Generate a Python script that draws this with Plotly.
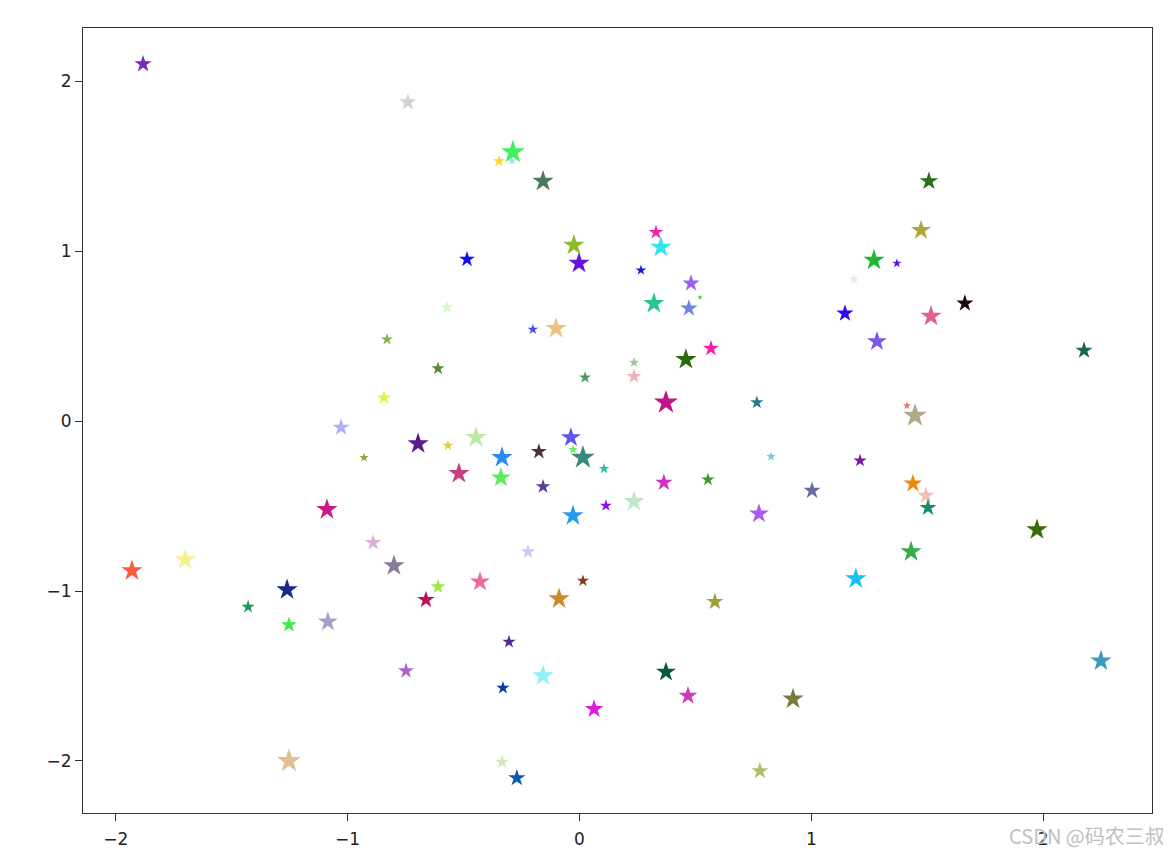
import plotly.graph_objects as go

x = [-1.882, -0.740, -0.347, -0.291, -0.287, -0.157, -0.485, -0.024, -0.002, 0.330,
     0.351, 0.265, 0.481, 0.520, 0.321, 0.472, 1.270, 1.184, 1.369, 1.507,
     1.473, 1.145, 1.283, 1.516, 1.662, 2.176, -0.571, -0.830, -0.610, -0.843,
     -0.201, -0.101, 0.024, -1.028, -1.089, -0.696, -0.567, -0.446, -0.929, -0.520,
     -0.334, -0.339, -0.175, -0.037, -0.028, 0.015, 0.106, -0.157, 0.114, -0.028,
     -0.890, -0.222, 0.235, 0.364, 0.554, 0.774, 1.003, 0.826, 1.210, 0.765,
     0.373, 0.235, 0.235, 0.459, 0.567, 1.412, 1.447, 1.438, 1.494, 1.503,
     1.973, 1.430, 2.249, 1.192, 0.584, 0.373, 0.468, 0.921, 0.778, -0.800,
     -0.610, -0.662, -0.429, 0.015, -0.088, -0.304, -0.748, -0.157, -0.330, 0.063,
     -0.334, -0.270, -1.930, -1.701, -1.261, -1.429, -1.253, -1.085, -1.253]

y = [2.100, 1.876, 1.529, 1.529, 1.582, 1.411, 0.951, 1.034, 0.928, 1.110,
     1.022, 0.887, 0.810, 0.728, 0.692, 0.663, 0.946, 0.834, 0.928, 1.411,
     1.122, 0.633, 0.468, 0.616, 0.692, 0.415, 0.669, 0.480, 0.309, 0.138,
     0.539, 0.545, 0.256, -0.038, -0.521, -0.133, -0.144, -0.097, -0.215, -0.309,
     -0.215, -0.333, -0.180, -0.097, -0.168, -0.215, -0.280, -0.386, -0.498, -0.557,
     -0.716, -0.769, -0.474, -0.362, -0.345, -0.545, -0.409, -0.209, -0.233, 0.109,
     0.109, 0.262, 0.345, 0.362, 0.427, 0.091, 0.032, -0.368, -0.439, -0.510,
     -0.639, -0.769, -1.411, -0.928, -1.063, -1.476, -1.617, -1.635, -2.059, -0.851,
     -0.975, -1.052, -0.946, -0.940, -1.046, -1.299, -1.470, -1.499, -1.570, -1.694,
     -2.006, -2.100, -0.881, -0.816, -0.993, -1.093, -1.199, -1.181, -2.000]

colors = ["#7a2ab8", "#d0d4d0", "#f8d820", "#a8d8f0", "#40ee60", "#4a7a58", "#1010ee", "#8cbc28", "#6a10e0", "#ee28a8",
          "#30e4f0", "#1818d8", "#9a60ee", "#40c020", "#2cc494", "#6888e4", "#20b830", "#f2e4e0", "#5a10e8", "#2a721a",
          "#aaaa3a", "#2a0aee", "#7a58e8", "#e06090", "#1e0a0a", "#1a6a48", "#d8f8c8", "#7ab840", "#5a8a3a", "#e8ee48",
          "#4848f0", "#f0c080", "#4a9a5a", "#b0b0f8", "#cc1888", "#5a1a8a", "#e0cc38", "#c0e8a0", "#a0a040", "#c84080",
          "#2a8aee", "#58ee58", "#4a3434", "#5a5aee", "#6ae86a", "#3a8a7a", "#2ab8a0", "#5a3a9a", "#9a0aee", "#2a9aee",
          "#d8b0d8", "#d0c8f0", "#c0e8c8", "#d030c0", "#3a9a2a", "#aa5aee", "#6a6aaa", "#70c8e8", "#7a1aaa", "#2a7a8a",
          "#c0158a", "#f0b0b8", "#a0c890", "#2a6a0a", "#ff1aaa", "#ee7070", "#b0aa8a", "#ee8a0a", "#f0c0b0", "#1a8a6a",
          "#3a6a0a", "#3aaa4a", "#3a9abb", "#1ac0ee", "#a0a03a", "#0a5a3a", "#cc3abb", "#7a7a3a", "#b0c070", "#8a7a9a",
          "#a0e840", "#c0105a", "#ee6a9a", "#8a3a1a", "#d08a2a", "#4a2a8a", "#aa66cc", "#90f0f8", "#0a3a9a", "#dd1add",
          "#d0e8c0", "#0a5ab0", "#ff5a3a", "#f8f090", "#1a2a8a", "#1a9a5a", "#3aee3a", "#a0a0c8", "#e0c090"]

sizes = [13, 13, 9, 6, 18, 16, 12, 16, 16, 11,
         16, 8, 13, 4, 16, 13, 16, 8, 7, 14,
         15, 13, 15, 16, 13, 13, 10, 9, 10, 11,
         8, 16, 9, 13, 16, 16, 8, 16, 7, 16,
         16, 15, 12, 15, 7, 18, 8, 11, 9, 16,
         12, 11, 16, 13, 10, 15, 13, 7, 10, 10,
         18, 11, 8, 16, 12, 6, 18, 14, 13, 13,
         16, 16, 16, 16, 13, 15, 14, 16, 13, 16,
         11, 13, 15, 9, 16, 10, 12, 16, 10, 14,
         10, 13, 16, 16, 16, 10, 12, 15, 18]

fig = go.Figure()
fig.add_trace(go.Scatter(
    x=x, y=y, mode="markers",
    marker=dict(symbol="star", color=colors, size=sizes, opacity=1, line=dict(width=0)),
    showlegend=False
))

axis_style = dict(
    showgrid=False, zeroline=False, showline=True, mirror=True,
    linecolor="#333333", linewidth=1.2, ticks="outside", ticklen=7,
    tickcolor="#333333", tickfont=dict(family="DejaVu Sans", size=17, color="#222222"),
    tickvals=[-2, -1, 0, 1, 2]
)

fig.update_xaxes(range=[-2.141, 2.469], ticklabelstandoff=3, **axis_style)
fig.update_yaxes(range=[-2.306, 2.312], **axis_style)

fig.add_annotation(
    text="CSDN @码农三叔", xref="paper", yref="paper", x=1.014, y=-0.029,
    xanchor="right", yanchor="middle", showarrow=False,
    font=dict(family="Noto Sans CJK SC", size=20, color="#c0c0c0")
)

# page has ~8px body margin, so size and margins are trimmed to land on the reference frame
fig.update_layout(
    width=1160, height=853,
    margin=dict(l=75, r=16, t=20, b=41),
    plot_bgcolor="white", paper_bgcolor="white"
)

fig.write_html("out.html")
